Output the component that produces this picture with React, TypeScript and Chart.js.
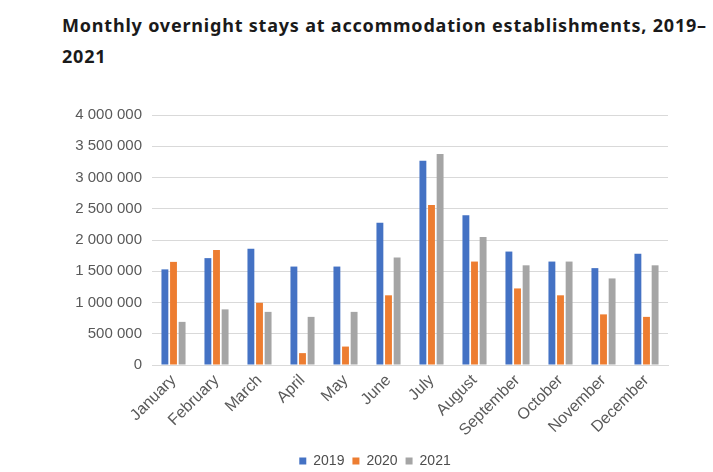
import React, { useEffect, useRef } from "react";
import { Chart, registerables } from "chart.js";

Chart.register(...registerables);

const months = ["January", "February", "March", "April", "May", "June", "July", "August", "September", "October", "November", "December"];
const stays2019 = [1530000, 1710000, 1860000, 1575000, 1575000, 2275000, 3270000, 2395000, 1815000, 1655000, 1550000, 1780000];
const stays2020 = [1650000, 1840000, 995000, 190000, 295000, 1115000, 2560000, 1655000, 1225000, 1115000, 810000, 770000];
const stays2021 = [690000, 890000, 850000, 770000, 850000, 1720000, 3375000, 2050000, 1595000, 1655000, 1385000, 1595000];
const seriesLabels = ["2019", "2020", "2021"];
const seriesColors = ["#4472C4", "#ED7D31", "#A5A5A5"];
const yTicks = [0, 500000, 1000000, 1500000, 2000000, 2500000, 3000000, 3500000, 4000000];

const fmt = (v: number) => String(v).replace(/\B(?=(\d{3})+(?!\d))/g, " ");

const shiftLegend = {
  id: "shiftLegend",
  afterLayout(chart: any) {
    const l = chart.legend;
    if (l) {
      l.left += 21;
      l.right += 21;
    }
  },
};

export default function App() {
  const ref = useRef<HTMLCanvasElement | null>(null);
  useEffect(() => {
    document.body.style.margin = "0";
    const ctx = ref.current!;
    const chart = new Chart(ctx, {
      type: "bar",
      data: {
        labels: months,
        datasets: [stays2019, stays2020, stays2021].map((d, i) => ({
          label: seriesLabels[i],
          data: d,
          backgroundColor: seriesColors[i],
          borderWidth: 0,
          categoryPercentage: 0.6,
          barPercentage: 0.8,
        })),
      },
      plugins: [shiftLegend],
      options: {
        animation: false,
        responsive: false,
        maintainAspectRatio: false,
        layout: { padding: { top: 6, right: 22, bottom: 0, left: 0 } },
        plugins: {
          tooltip: { enabled: false },
          legend: {
            position: "bottom",
            labels: {
              boxWidth: 7,
              boxHeight: 7,
              padding: 8,
              color: "#4d4d4d",
              font: { family: "Liberation Sans", size: 14 },
            },
          },
        },
        scales: {
          x: {
            grid: { display: false, drawTicks: false },
            border: { color: "#D9D9D9" },
            afterFit: (s: any) => {
              s.height = 81;
            },
            ticks: {
              minRotation: 45,
              maxRotation: 45,
              padding: 6,
              color: "#595959",
              font: { family: "Liberation Sans", size: 16 },
            },
          },
          y: {
            min: 0,
            max: 4000000,
            afterBuildTicks: (s: any) => {
              s.ticks = yTicks.map((v) => ({ value: v }));
            },
            afterFit: (s: any) => {
              s.width = 112;
            },
            grid: { color: "#D9D9D9", drawTicks: false },
            border: { display: false },
            ticks: {
              padding: 10,
              color: "#595959",
              font: { family: "Liberation Sans", size: 15 },
              callback: (v: any) => fmt(Number(v)),
            },
          },
        },
      },
    });
    return () => chart.destroy();
  }, []);
  return (
    <div style={{ position: "relative", width: 713, height: 472, background: "#fff", overflow: "hidden" }}>
      <div
        style={{
          position: "absolute",
          left: 62,
          top: 10,
          fontFamily: "'Noto Sans', sans-serif",
          fontWeight: 700,
          fontSize: 18,
          letterSpacing: "0.8px",
          lineHeight: "31px",
          color: "#1a1a1a",
          whiteSpace: "nowrap",
        }}
      >
        Monthly overnight stays at accommodation establishments, 2019–
        <br />
        2021
      </div>
      <canvas ref={ref} width={650} height={382} style={{ position: "absolute", left: 40, top: 96 }} />
    </div>
  );
}
